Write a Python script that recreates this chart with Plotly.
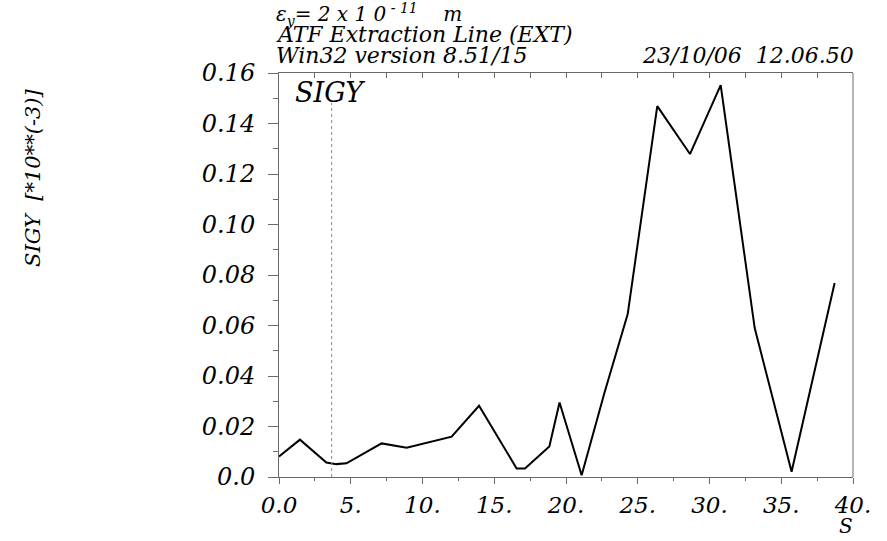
import plotly.graph_objects as go

# Vertical beam size along the ATF extraction line
s_pos = [0.0, 1.46, 3.3, 4.0, 4.7, 7.15, 8.9, 12.03, 13.94, 16.56, 17.14, 18.84,
         19.55, 21.09, 22.7, 24.3, 26.36, 28.64, 30.78, 33.15, 35.72, 38.72]
sigy = [0.0081, 0.0148, 0.0057, 0.0051, 0.0054, 0.0133, 0.0116, 0.0160, 0.0282,
        0.0034, 0.0034, 0.0121, 0.0295, 0.0007, 0.0338, 0.0645, 0.1469, 0.1279,
        0.1552, 0.0590, 0.0021, 0.0768]

marker_s = 3.67

y_tickvals = [0.0, 0.02, 0.04, 0.06, 0.08, 0.10, 0.12, 0.14, 0.16]
y_ticktext = ["0.0", "0.02", "0.04", "0.06", "0.08", "0.10", "0.12", "0.14", "0.16"]
x_tickvals = [0, 5, 10, 15, 20, 25, 30, 35, 40]
x_ticktext = ["0.0", "5.", "10.", "15.", "20.", "25.", "30.", "35.", "40."]

FONT = "DejaVu Serif"
AX = "#6a6a6a"

def ifont(size):
    return dict(family=FONT, size=size, style="italic", color="black")

fig = go.Figure()
fig.add_trace(go.Scatter(x=s_pos, y=sigy, mode="lines",
                         line=dict(color="black", width=2), showlegend=False))
# invisible trace to carry the top axis
fig.add_trace(go.Scatter(x=[0, 40], y=[0, 0], xaxis="x2", mode="lines",
                         line=dict(width=0), hoverinfo="skip", showlegend=False))

fig.update_layout(
    width=887, height=541,
    margin=dict(l=279, r=34, t=73, b=64),
    paper_bgcolor="white", plot_bgcolor="white",
    xaxis=dict(range=[0, 40], tickvals=x_tickvals, ticktext=x_ticktext,
               ticks="outside", ticklen=6, tickcolor=AX, showline=True,
               linecolor=AX, linewidth=1, mirror=False, showgrid=False,
               zeroline=False, ticklabelstandoff=1, tickfont=ifont(23),
               minor=dict(dtick=2.5, tick0=0, ticks="outside", ticklen=3,
                          tickcolor=AX, showgrid=False)),
    xaxis2=dict(range=[0, 40], overlaying="x", side="top", dtick=2.5, tick0=0,
                ticks="inside", ticklen=5, tickcolor=AX, showticklabels=False,
                showline=True, linecolor=AX, linewidth=1, showgrid=False,
                zeroline=False),
    yaxis=dict(range=[0, 0.16], tickvals=y_tickvals, ticktext=y_ticktext,
               ticks="outside", ticklen=10, tickcolor=AX, showline=True,
               linecolor=AX, linewidth=1, mirror=False, showgrid=False,
               zeroline=False, ticklabelstandoff=8, tickfont=ifont(24),
               minor=dict(dtick=0.01, tick0=0, ticks="outside", ticklen=5,
                          tickcolor=AX, showgrid=False)),
    shapes=[
        # right frame edge
        dict(type="line", xref="paper", yref="paper", x0=1, x1=1, y0=0, y1=1,
             line=dict(color=AX, width=1)),
        # marker position
        dict(type="line", xref="x", yref="paper", x0=marker_s, x1=marker_s,
             y0=0, y1=0.926, line=dict(color="#888888", width=1, dash="dot")),
    ],
)

def px_x(px):
    return (px - 279) / 574.0

def px_y(py):
    return (477 - py) / 404.0

annotations = [
    dict(text="ε<sub>y</sub>= 2 x 1 0<sup> - 11</sup>    m", x=px_x(274), y=px_y(14),
         xanchor="left", yanchor="middle", font=ifont(20)),
    dict(text="ATF Extraction Line (EXT)", x=px_x(274), y=px_y(35),
         xanchor="left", yanchor="middle", font=ifont(22)),
    dict(text="Win32 version 8.51/15", x=px_x(274), y=px_y(56),
         xanchor="left", yanchor="middle", font=ifont(22)),
    dict(text="23/10/06  12.06.50", x=px_x(856), y=px_y(56),
         xanchor="right", yanchor="middle", font=ifont(22)),
    dict(text="SIGY", x=px_x(293), y=px_y(92), xanchor="left", yanchor="middle",
         font=ifont(27)),
    dict(text="S", x=px_x(846), y=px_y(526), xanchor="center", yanchor="middle",
         font=ifont(20)),
    dict(text="SIGY  [*10**(-3)]", x=px_x(33), y=px_y(178), textangle=-90,
         xanchor="center", yanchor="middle", font=ifont(21)),
]
for a in annotations:
    a.update(xref="paper", yref="paper", showarrow=False)
fig.update_layout(annotations=annotations)

fig.write_html("out.html")
